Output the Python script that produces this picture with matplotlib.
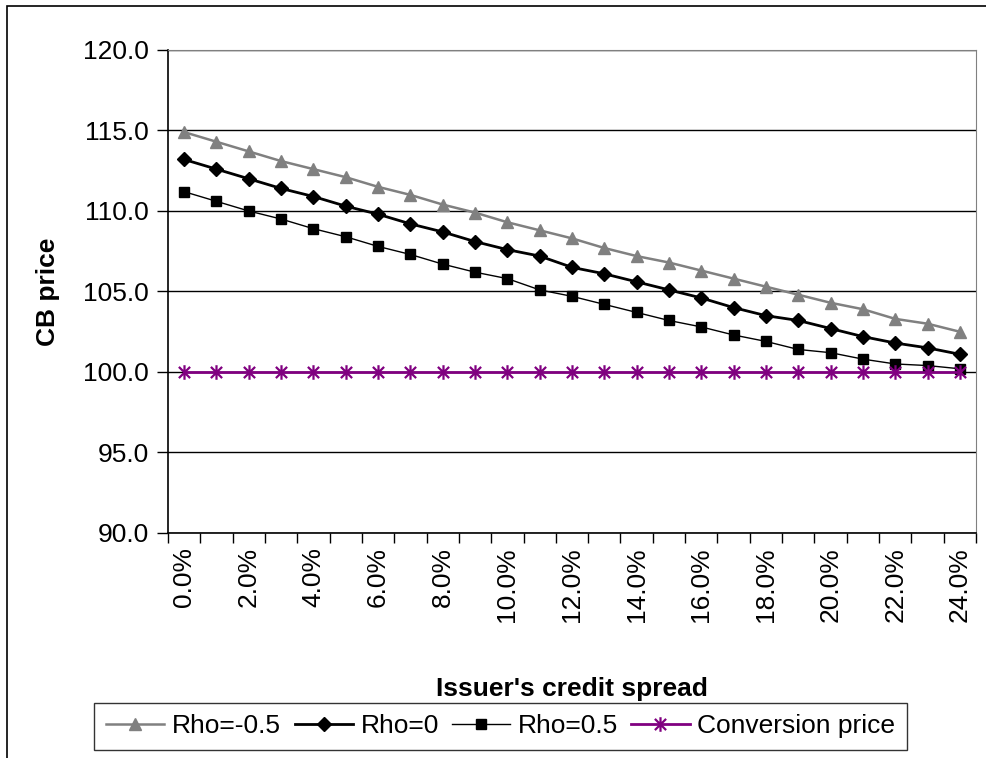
import numpy as np
import matplotlib
matplotlib.use("Agg")
import matplotlib.pyplot as plt
from matplotlib.path import Path
from matplotlib.patches import Rectangle

plt.rcParams['font.family'] = ['Liberation Sans', 'DejaVu Sans']

# credit spread categories (0% .. 24%)
spreads = [i / 100 for i in range(25)]
tick_labels = ["%.1f%%" % (s * 100) for s in spreads]

rho_neg = [114.9, 114.3, 113.7, 113.1, 112.6, 112.1, 111.5, 111.0, 110.4, 109.9,
           109.3, 108.8, 108.3, 107.7, 107.2, 106.8, 106.3, 105.8, 105.3, 104.8,
           104.3, 103.9, 103.3, 103.0, 102.5]
rho_zero = [113.2, 112.6, 112.0, 111.4, 110.9, 110.3, 109.8, 109.2, 108.7, 108.1,
            107.6, 107.2, 106.5, 106.1, 105.6, 105.1, 104.6, 104.0, 103.5, 103.2,
            102.7, 102.2, 101.8, 101.5, 101.1]
rho_pos = [111.2, 110.6, 110.0, 109.5, 108.9, 108.4, 107.8, 107.3, 106.7, 106.2,
           105.8, 105.1, 104.7, 104.2, 103.7, 103.2, 102.8, 102.3, 101.9, 101.4,
           101.2, 100.8, 100.5, 100.4, 100.2]
conversion = [100.0] * 25

# excel-like star marker: an X plus a vertical bar
star = Path([(-1, -1), (1, 1), (-1, 1), (1, -1), (0, -1.3), (0, 1.3)],
            [Path.MOVETO, Path.LINETO, Path.MOVETO, Path.LINETO, Path.MOVETO, Path.LINETO])

fig = plt.figure(figsize=(9.86, 7.58), dpi=100)
ax = fig.add_axes([168 / 986, 1 - 533 / 758, (976 - 168) / 986, (533 - 50) / 758])

x = np.arange(len(spreads))
ax.plot(x, rho_neg, color="#808080", lw=1.8, marker="^", ms=8.5, label="Rho=-0.5")
ax.plot(x, rho_zero, color="black", lw=2.0, marker="D", ms=7, label="Rho=0")
ax.plot(x, rho_pos, color="black", lw=1.0, marker="s", ms=7.5, label="Rho=0.5")
ax.plot(x, conversion, color="#800080", lw=2.0, marker=star, ms=10.5, mew=1.6,
        mfc="none", label="Conversion price")

ax.set_ylim(90, 120)
ax.set_yticks(np.arange(90, 121, 5))
ax.set_yticklabels(["%.1f" % v for v in np.arange(90, 121, 5)], fontsize=19)
ax.yaxis.grid(True, color="black", lw=1.0)
ax.set_axisbelow(True)

ax.set_xlim(-0.5, 24.5)
ax.set_xticks(x[::2])
ax.set_xticklabels(tick_labels[::2], rotation=90, fontsize=19)
ax.set_xticks(np.arange(-0.5, 25, 1), minor=True)
ax.tick_params(axis="x", which="major", length=0, pad=10)
ax.tick_params(axis="x", which="minor", length=7, width=1, direction="out")
ax.tick_params(axis="y", length=8, width=1, direction="out", pad=6)

for side in ["top", "right"]:
    ax.spines[side].set_color("#808080")
for side in ["left", "bottom"]:
    ax.spines[side].set_color("black")
    ax.spines[side].set_linewidth(1.2)

ax.set_ylabel("CB price", fontsize=19, fontweight="bold", labelpad=16)
ax.set_xlabel("Issuer's credit spread", fontsize=19, fontweight="bold", labelpad=40)

leg = fig.legend(loc="center", bbox_to_anchor=(0.508, 0.0416), ncol=4, fontsize=19,
                 frameon=True, fancybox=False, edgecolor="black", handlelength=2.2,
                 handletextpad=0.3, columnspacing=0.5, borderpad=0.45, borderaxespad=0)
leg.get_frame().set_linewidth(1.0)

# outer chart border (right and bottom fall outside the picture)
fig.add_artist(Rectangle((7 / 986, -0.1), 1.5, 1.1 - 6 / 758, transform=fig.transFigure,
                         fill=False, edgecolor="black", lw=1.2))

fig.savefig("out.png", dpi=100)
